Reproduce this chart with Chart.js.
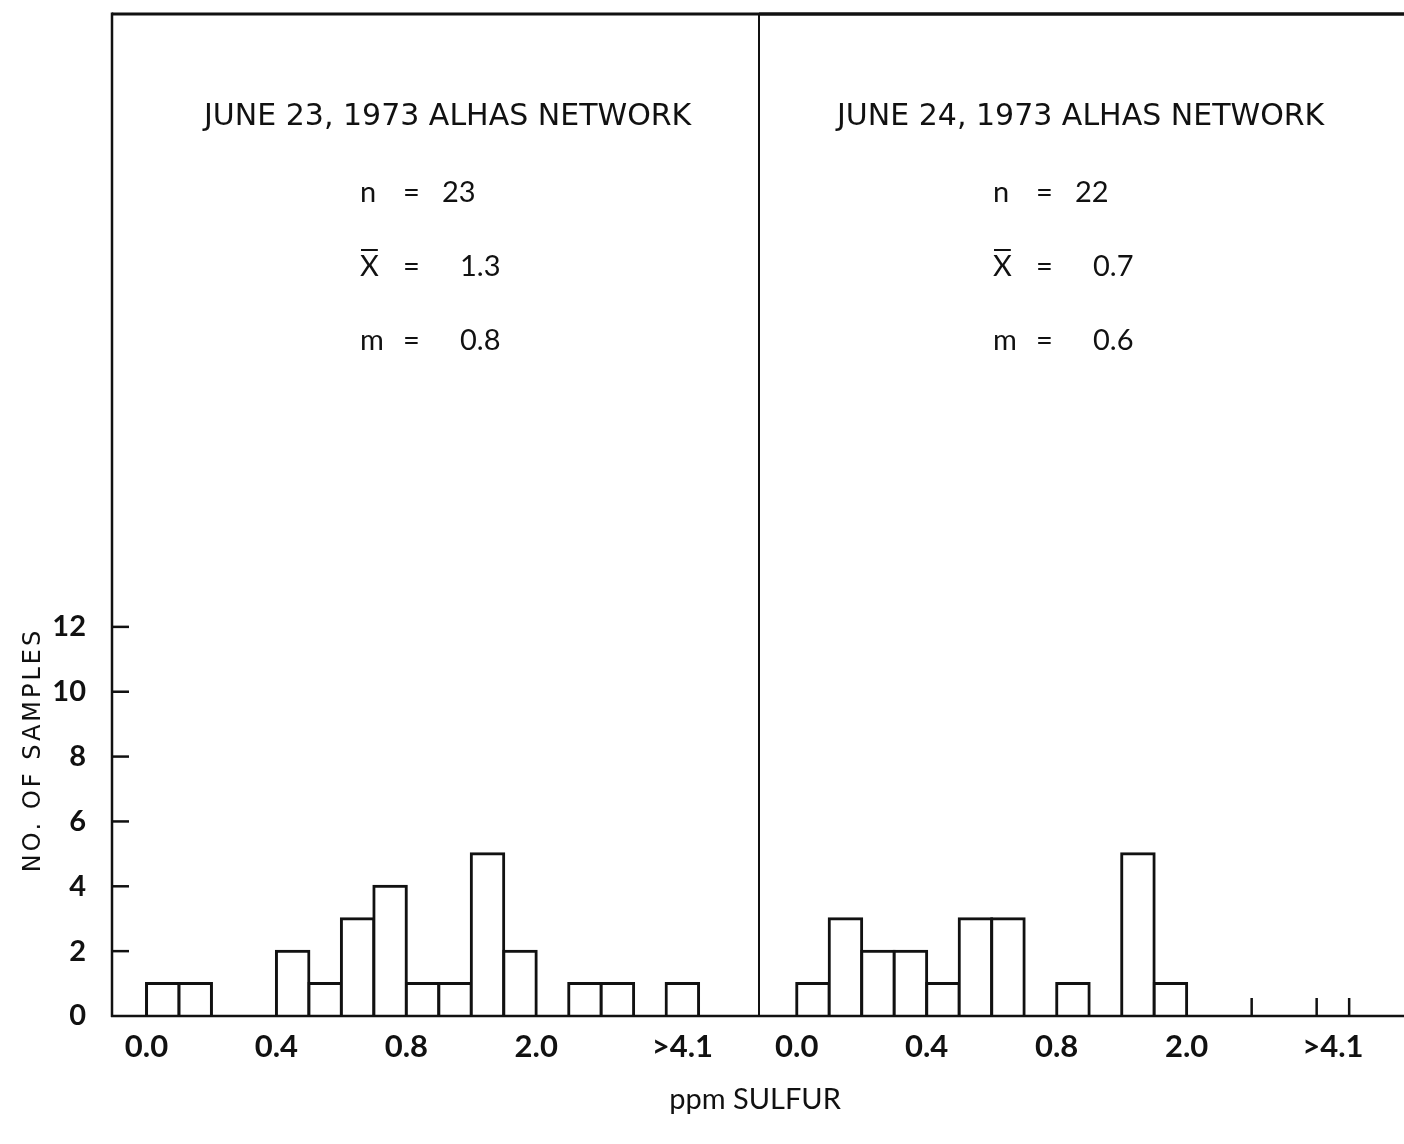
<!DOCTYPE html>
<html>
<head>
<meta charset="utf-8">
<script src="https://cdn.jsdelivr.net/npm/chart.js@4.4.1/dist/chart.umd.min.js"></script>
<style>
  html, body { margin: 0; padding: 0; background: #fff; overflow: hidden; }
  #sheet { position: relative; width: 1404px; height: 1144px; overflow: hidden; background: #fff; }
  #c23 { position: absolute; left: 0; top: 0; }
  #c24 { position: absolute; left: 759px; top: 0; }
</style>
</head>
<body>
<div id="sheet">
  <canvas id="c23" width="1404" height="1144"></canvas>
  <canvas id="c24" width="700" height="1144"></canvas>
</div>
<script>
// sample counts per 0.1 ppm bin, one bin per entry
const counts23 = [1, 1, 0, 0, 2, 1, 3, 4, 1, 1, 5, 2, 0, 1, 1, 0, 1];
const counts24 = [1, 3, 2, 2, 1, 3, 3, 0, 1, 0, 5, 1];
// empty bins of June 24 that still have a stub drawn on the base line
const stubEdges24 = [14, 16, 17];

const xTickBins = [0, 4, 8, 12, 16.5];
const xTickLabels = ['0.0', '0.4', '0.8', '2.0', '>4.1'];
const yTicks = [0, 2, 4, 6, 8, 10, 12];

const titles = ['JUNE 23, 1973 ALHAS NETWORK', 'JUNE 24, 1973 ALHAS NETWORK'];
const statNames = ['n', 'X', 'm'];
const stats23 = ['23', '1.3', '0.8'];
const stats24 = ['22', '0.7', '0.6'];

const INK = '#111';
const FONT = 'Lato, "Open Sans", sans-serif';
const WIDE = '"DejaVu Sans", sans-serif';
const Y_TOP = 30.9;

Chart.defaults.font.family = FONT;
Chart.defaults.color = INK;

function stroke(ctx, x1, y1, x2, y2, w) {
  ctx.lineWidth = w;
  ctx.beginPath();
  ctx.moveTo(x1, y1);
  ctx.lineTo(x2, y2);
  ctx.stroke();
}

// frame, inward ticks, stubs and the text block of each panel
const panelPlugin = {
  id: 'panel',
  afterDatasetsDraw(chart, args, o) {
    const { ctx, chartArea: a, scales } = chart;
    ctx.save();
    ctx.strokeStyle = INK;
    ctx.lineCap = 'butt';

    stroke(ctx, o.leftAxis ? a.left : 0, a.top, chart.width, a.top, 3);
    stroke(ctx, o.leftAxis ? a.left - 1 : 0, a.bottom, o.leftAxis ? a.right : chart.width, a.bottom, 2.5);
    if (o.leftAxis) {
      stroke(ctx, a.left, a.top - 1.5, a.left, a.bottom + 1, 2.5);
      stroke(ctx, a.right, a.top, a.right, a.bottom + 1, 2);
      yTicks.filter(v => v > 0).forEach(v => {
        const py = scales.y.getPixelForValue(v);
        stroke(ctx, a.left, py, a.left + 17, py, 2.5);
      });
    }
    (o.stubs || []).forEach(b => {
      const px = scales.x.getPixelForValue(b);
      stroke(ctx, px, a.bottom, px, a.bottom - 18, 2.5);
    });

    // heading and summary statistics
    ctx.fillStyle = INK;
    ctx.textBaseline = 'middle';
    ctx.textAlign = 'left';
    const x0 = a.left + o.textX;
    ctx.font = '30px ' + WIDE;
    ctx.fillText(o.title, x0 - 156, 117);
    ctx.font = '29px ' + FONT;
    const rowY = [193, 267, 341];
    statNames.forEach((nm, r) => {
      ctx.fillText(nm, x0, rowY[r]);
      ctx.fillText('=', x0 + 43, rowY[r]);
      ctx.fillText(o.values[r], x0 + (r === 0 ? 82 : 100), rowY[r]);
    });
    const xw = ctx.measureText('X').width;
    stroke(ctx, x0 + 1, rowY[1] - 17, x0 + xw - 1, rowY[1] - 17, 2);

    if (o.axisTitles) {
      ctx.textAlign = 'center';
      ctx.font = '29px ' + FONT;
      ctx.fillText('ppm SULFUR', 755, 1100);
      ctx.save();
      ctx.translate(34, 750);
      ctx.rotate(-Math.PI / 2);
      ctx.font = '24px ' + WIDE;
      ctx.letterSpacing = '3px';
      ctx.fillText('NO. OF SAMPLES', 0, 0);
      ctx.restore();
    }
    ctx.restore();
  }
};

function histogram(canvasId, counts, cfg) {
  const ctx = document.getElementById(canvasId).getContext('2d');
  return new Chart(ctx, {
    type: 'bar',
    data: {
      datasets: [{
        data: counts.map((c, i) => ({ x: i + 0.5, y: c })),
        backgroundColor: c => ((c.raw && c.raw.y) > 0 ? '#fff' : 'rgba(0,0,0,0)'),
        borderColor: INK,
        borderWidth: c => ((c.raw && c.raw.y) > 0 ? 3 : 0),
        borderSkipped: 'start',
        inflateAmount: 1.5,
        categoryPercentage: 1,
        barPercentage: 1
      }]
    },
    options: {
      responsive: false,
      animation: false,
      devicePixelRatio: 1,
      events: [],
      layout: { padding: cfg.padding },
      plugins: {
        legend: { display: false },
        tooltip: { enabled: false },
        panel: cfg.panel
      },
      scales: {
        x: {
          type: 'linear',
          offset: false,
          min: cfg.xMin,
          max: cfg.xMax,
          grid: { display: false, drawTicks: false },
          border: { display: false },
          afterBuildTicks: s => { s.ticks = xTickBins.map(v => ({ value: v })); },
          afterFit: s => {
            s.height = 128;
            s.paddingLeft = 0;
            s.paddingRight = 0;
          },
          ticks: {
            autoSkip: false,
            maxRotation: 0,
            padding: 12,
            color: INK,
            font: { size: 31, weight: 'bold' },
            callback: (v, i) => xTickLabels[i]
          }
        },
        y: {
          min: 0,
          max: Y_TOP,
          display: cfg.showY,
          grid: { display: false, drawTicks: false },
          border: { display: false },
          afterBuildTicks: s => { s.ticks = yTicks.map(v => ({ value: v })); },
          afterFit: s => {
            s.width = cfg.showY ? 112 : 0;
            s.paddingTop = 0;
            s.paddingBottom = 0;
          },
          ticks: { padding: 26, color: INK, font: { size: 29, weight: 'bold' } }
        }
      }
    },
    plugins: [panelPlugin]
  });
}

histogram('c23', counts23, {
  padding: { top: 14, right: 645, left: 0, bottom: 0 },
  xMin: -1.063, xMax: 18.86, showY: true,
  panel: { leftAxis: true, axisTitles: true, textX: 248, title: titles[0], values: stats23 }
});

histogram('c24', counts24, {
  padding: { top: 14, right: 0, left: 0, bottom: 0 },
  xMin: -1.16, xMax: 20.38, showY: false,
  panel: { leftAxis: false, textX: 234, title: titles[1], values: stats24, stubs: stubEdges24 }
});
</script>
</body>
</html>
